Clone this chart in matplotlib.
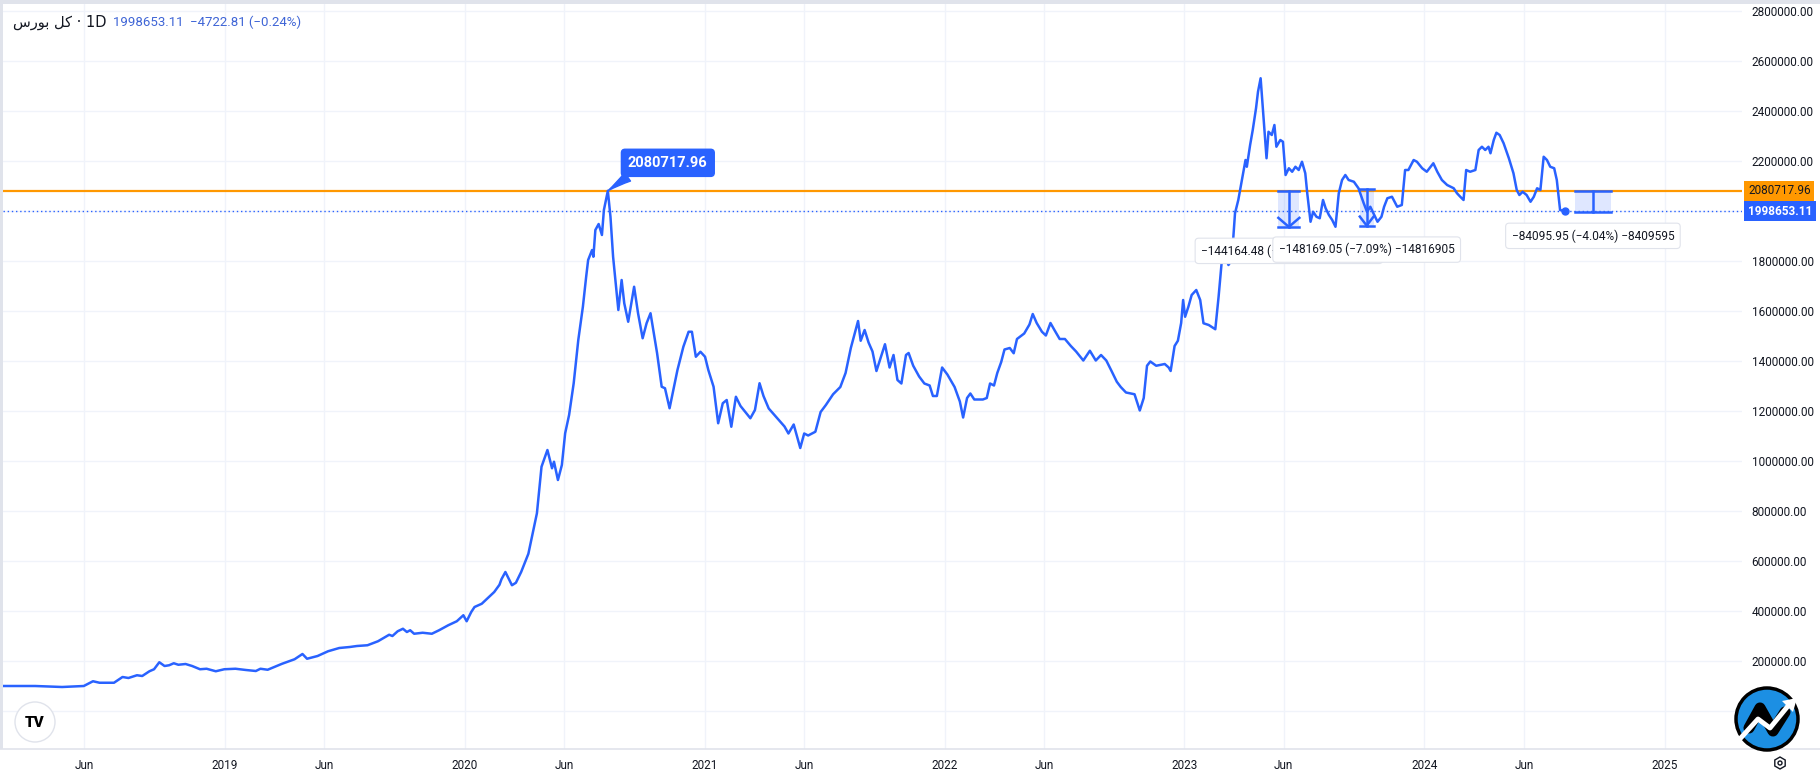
import numpy as np
import pandas as pd
import matplotlib
matplotlib.use('Agg')
import matplotlib.pyplot as plt
import matplotlib.ticker as mticker
from matplotlib.patches import Rectangle, Circle, RegularPolygon, Polygon
from matplotlib.transforms import blended_transform_factory

# index closes
dates = ['2018-01-27', '2018-03-18', '2018-04-28', '2018-05-31', '2018-06-14', '2018-06-24',
         '2018-07-16', '2018-07-29', '2018-08-07', '2018-08-20', '2018-08-28', '2018-09-08',
         '2018-09-15', '2018-09-23', '2018-10-01', '2018-10-08', '2018-10-15', '2018-10-22',
         '2018-11-02', '2018-11-12', '2018-11-24', '2018-12-04', '2018-12-18', '2018-12-31',
         '2019-01-17', '2019-02-02', '2019-02-17', '2019-02-24', '2019-03-07', '2019-03-29',
         '2019-04-17', '2019-04-29', '2019-05-06', '2019-05-22', '2019-06-07', '2019-06-24',
         '2019-07-10', '2019-07-21', '2019-08-06', '2019-08-22', '2019-09-08', '2019-09-13',
         '2019-09-21', '2019-09-29', '2019-10-05', '2019-10-10', '2019-10-16', '2019-10-29',
         '2019-11-12', '2019-11-23', '2019-12-07', '2019-12-20', '2019-12-30', '2020-01-04',
         '2020-01-11', '2020-01-16', '2020-01-27', '2020-02-07', '2020-02-15', '2020-02-23',
         '2020-02-26', '2020-03-03', '2020-03-08', '2020-03-13', '2020-03-19', '2020-03-27',
         '2020-04-07', '2020-04-20', '2020-04-27', '2020-05-06', '2020-05-13', '2020-05-16',
         '2020-05-22', '2020-05-28', '2020-06-02', '2020-06-08', '2020-06-15', '2020-06-22',
         '2020-06-29', '2020-07-04', '2020-07-07', '2020-07-13', '2020-07-15', '2020-07-18',
         '2020-07-23', '2020-07-28', '2020-07-31', '2020-08-06', '2020-08-10', '2020-08-14',
         '2020-08-22', '2020-08-27', '2020-08-31', '2020-09-06', '2020-09-15', '2020-09-21',
         '2020-09-28', '2020-10-04', '2020-10-10', '2020-10-20', '2020-10-27', '2020-11-01',
         '2020-11-08', '2020-11-20', '2020-11-29', '2020-12-07', '2020-12-12', '2020-12-18',
         '2020-12-25', '2021-01-01', '2021-01-06', '2021-01-14', '2021-01-21', '2021-01-28',
         '2021-02-03', '2021-02-10', '2021-02-17', '2021-02-24', '2021-03-11', '2021-03-18',
         '2021-03-25', '2021-03-31', '2021-04-08', '2021-04-22', '2021-05-02', '2021-05-08',
         '2021-05-16', '2021-05-26', '2021-06-01', '2021-06-07', '2021-06-18', '2021-06-26',
         '2021-07-04', '2021-07-15', '2021-07-26', '2021-08-03', '2021-08-11', '2021-08-22',
         '2021-08-26', '2021-09-01', '2021-09-07', '2021-09-13', '2021-09-19', '2021-09-25',
         '2021-10-02', '2021-10-09', '2021-10-15', '2021-10-21', '2021-10-27', '2021-11-03',
         '2021-11-07', '2021-11-14', '2021-11-23', '2021-12-01', '2021-12-09', '2021-12-14',
         '2021-12-20', '2021-12-28', '2022-01-05', '2022-01-16', '2022-01-24', '2022-01-29',
         '2022-02-04', '2022-02-09', '2022-02-15', '2022-02-28', '2022-03-06', '2022-03-11',
         '2022-03-17', '2022-03-22', '2022-03-28', '2022-04-02', '2022-04-10', '2022-04-16',
         '2022-04-21', '2022-05-02', '2022-05-10', '2022-05-15', '2022-05-21', '2022-05-29',
         '2022-06-04', '2022-06-11', '2022-06-17', '2022-06-25', '2022-07-03', '2022-07-12',
         '2022-07-20', '2022-07-31', '2022-08-10', '2022-08-19', '2022-08-27', '2022-09-04',
         '2022-09-12', '2022-09-20', '2022-09-26', '2022-10-04', '2022-10-17', '2022-10-25',
         '2022-10-31', '2022-11-05', '2022-11-10', '2022-11-19', '2022-12-02', '2022-12-08',
         '2022-12-11', '2022-12-17', '2022-12-22', '2022-12-27', '2022-12-30', '2023-01-02',
         '2023-01-07', '2023-01-12', '2023-01-19', '2023-01-25', '2023-01-30', '2023-02-07',
         '2023-02-17', '2023-02-22', '2023-02-27', '2023-03-04', '2023-03-09', '2023-03-14',
         '2023-03-19', '2023-03-24', '2023-03-30', '2023-04-04', '2023-04-06', '2023-04-11',
         '2023-04-15', '2023-04-20', '2023-04-23', '2023-04-27', '2023-05-02', '2023-05-06',
         '2023-05-09', '2023-05-14', '2023-05-18', '2023-05-21', '2023-05-27', '2023-05-31',
         '2023-06-04', '2023-06-09', '2023-06-14', '2023-06-19', '2023-06-24', '2023-06-29',
         '2023-07-04', '2023-07-07', '2023-07-12', '2023-07-16', '2023-07-21', '2023-07-26',
         '2023-07-31', '2023-08-04', '2023-08-09', '2023-08-14', '2023-08-19', '2023-08-24',
         '2023-08-29', '2023-09-03', '2023-09-08', '2023-09-16', '2023-09-23', '2023-10-01',
         '2023-10-06', '2023-10-11', '2023-10-17', '2023-10-22', '2023-10-28', '2023-11-01',
         '2023-11-06', '2023-11-13', '2023-11-21', '2023-11-28', '2023-12-03', '2023-12-08',
         '2023-12-16', '2023-12-21', '2023-12-29', '2024-01-05', '2024-01-15', '2024-01-21',
         '2024-01-28', '2024-02-05', '2024-02-15', '2024-02-20', '2024-02-25', '2024-03-01',
         '2024-03-05', '2024-03-11', '2024-03-19', '2024-03-24', '2024-03-29', '2024-04-03',
         '2024-04-08', '2024-04-11', '2024-04-16', '2024-04-20', '2024-04-25', '2024-05-01',
         '2024-05-09', '2024-05-16', '2024-05-21', '2024-05-25', '2024-05-30', '2024-06-05',
         '2024-06-11', '2024-06-16', '2024-06-21', '2024-06-26', '2024-07-01', '2024-07-06',
         '2024-07-11', '2024-07-17', '2024-07-21', '2024-07-26', '2024-08-03']
close = [100000, 100000, 96000, 100000, 119000, 113000,
         113000, 136000, 132000, 143000, 140000, 159000,
         167000, 195000, 180000, 183000, 191000, 185000,
         188000, 180000, 167000, 169000, 159000, 167000,
         169000, 164000, 160000, 169000, 165000, 189000,
         207000, 228000, 209000, 220000, 239000, 252000,
         256000, 260000, 263000, 279000, 305000, 300000,
         319000, 329000, 316000, 323000, 309000, 313000,
         309000, 323000, 343000, 359000, 383000, 359000,
         396000, 416000, 429000, 456000, 476000, 505000,
         527000, 556000, 529000, 503000, 513000, 556000,
         629000, 791000, 977000, 1044000, 971000, 997000,
         924000, 984000, 1111000, 1184000, 1311000, 1484000,
         1617000, 1737000, 1804000, 1844000, 1817000, 1924000,
         1948000, 1904000, 2004000, 2080718, 1977000, 1817000,
         1604000, 1724000, 1631000, 1557000, 1697000, 1591000,
         1491000, 1551000, 1591000, 1431000, 1297000, 1291000,
         1211000, 1364000, 1457000, 1517000, 1517000, 1417000,
         1437000, 1417000, 1364000, 1297000, 1151000, 1231000,
         1244000, 1137000, 1257000, 1220000, 1171000, 1204000,
         1311000, 1260000, 1210000, 1168000, 1138000, 1110000,
         1146000, 1052000, 1110000, 1102000, 1117000, 1196000,
         1224000, 1267000, 1296000, 1352000, 1452000, 1560000,
         1481000, 1524000, 1474000, 1438000, 1360000, 1410000,
         1467000, 1374000, 1424000, 1324000, 1310000, 1424000,
         1432000, 1381000, 1338000, 1310000, 1302000, 1260000,
         1260000, 1374000, 1346000, 1296000, 1238000, 1174000,
         1252000, 1270000, 1246000, 1246000, 1252000, 1310000,
         1302000, 1352000, 1396000, 1446000, 1452000, 1431000,
         1488000, 1510000, 1546000, 1588000, 1552000, 1517000,
         1502000, 1552000, 1524000, 1488000, 1488000, 1460000,
         1438000, 1402000, 1441000, 1402000, 1424000, 1402000,
         1360000, 1317000, 1296000, 1274000, 1267000, 1202000,
         1252000, 1381000, 1398000, 1381000, 1388000, 1374000,
         1360000, 1460000, 1481000, 1552000, 1644000, 1577000,
         1617000, 1664000, 1684000, 1644000, 1551000, 1544000,
         1527000, 1657000, 1804000, 1824000, 1784000, 1804000,
         1991000, 2044000, 2131000, 2204000, 2177000, 2264000,
         2324000, 2411000, 2477000, 2531000, 2351000, 2211000,
         2317000, 2304000, 2344000, 2257000, 2284000, 2277000,
         2144000, 2171000, 2157000, 2177000, 2164000, 2197000,
         2151000, 2071000, 1957000, 1997000, 1977000, 1971000,
         2044000, 2011000, 1984000, 1964000, 1937000, 2071000,
         2124000, 2144000, 2124000, 2117000, 2091000, 2031000,
         1997000, 2017000, 1984000, 1957000, 1977000, 2017000,
         2051000, 2057000, 2017000, 2024000, 2164000, 2164000,
         2204000, 2197000, 2171000, 2157000, 2191000, 2157000,
         2124000, 2104000, 2091000, 2071000, 2057000, 2044000,
         2164000, 2157000, 2164000, 2244000, 2257000, 2244000,
         2257000, 2231000, 2284000, 2313000, 2304000, 2271000,
         2211000, 2151000, 2084000, 2064000, 2077000, 2064000,
         2037000, 2057000, 2091000, 2084000, 2217000, 2204000,
         2177000, 2171000, 2124000, 2004000, 1998653.11]

peak_date = '2020-08-06'
peak_value = 2080717.96
last_value = 1998653.11
change_text = '1998653.11  \u22124722.81 (\u22120.24%)'

# price range measurements
tool_start = ['2023-05-24', '2023-09-25', '2024-08-18']
tool_end = ['2023-06-25', '2023-10-16', '2024-10-11']
tool_top = [2080717.96, 2089800.00, 2080717.96]
tool_change = [-144164.48, -148169.05, -84095.95]
tool_arrow = [True, True, False]

# axis ticks
yticks = np.arange(0, 2800001, 200000)
xtick_dates = ['2018-06-01', '2019-01-01', '2019-06-01', '2020-01-01', '2020-06-01',
               '2021-01-01', '2021-06-01', '2022-01-01', '2022-06-01', '2023-01-01',
               '2023-06-01', '2024-01-01', '2024-06-01', '2025-01-01']
xtick_labels = ['Jun', '2019', 'Jun', '2020', 'Jun', '2021', 'Jun', '2022', 'Jun',
                '2023', 'Jun', '2024', 'Jun', '2025']

BLUE = '#2962FF'
ORANGE = '#FF9800'
TXT = '#131722'
GRID = '#f0f3fa'
FONT = ['Roboto', 'DejaVu Sans']

plt.rcParams['font.family'] = FONT

W, H = 1820, 774
fig = plt.figure(figsize=(W / 100, H / 100), dpi=100, facecolor='white')
ax = fig.add_axes([3 / W, 25 / H, 1739 / W, 745 / H])
ax.set_facecolor('white')

ymin, ymax = -152000, 2828000
ax.set_ylim(ymin, ymax)
ax.set_xlim(pd.Timestamp('2018-01-28'), pd.Timestamp('2025-04-29'))
px_val = (ymax - ymin) / 745.0

d = pd.to_datetime(dates)
ax.plot(d, close, color=BLUE, lw=1.8, solid_joinstyle='round', zorder=4)
ax.plot(d[-1:], close[-1:], 'o', ms=5, color=BLUE, zorder=5)

ax.axhline(peak_value, color=ORANGE, lw=1.6, zorder=3)
ax.axhline(last_value, color=BLUE, lw=1, ls=(0, (1, 2)), zorder=3)

# grid
ax.set_yticks(yticks)
ax.set_xticks(pd.to_datetime(xtick_dates))
ax.set_xticklabels(xtick_labels)
ax.grid(True, color=GRID, lw=1, zorder=0)
ax.set_axisbelow(True)
for s in ax.spines.values():
    s.set_visible(False)


def yfmt(v, pos):
    if v <= 0 or abs(v - 2000000) < 1:
        return ''
    return f'{v:.2f}'


ax.yaxis.set_major_formatter(mticker.FuncFormatter(yfmt))
ax.yaxis.tick_right()
ax.tick_params(axis='y', length=0, pad=7, labelsize=8.5, labelcolor=TXT)
ax.tick_params(axis='x', length=0, pad=7, labelsize=8.5, labelcolor=TXT)

# price labels on the scale
trans = blended_transform_factory(ax.transAxes, ax.transData)
ax.annotate(f'{peak_value:.2f}', xy=(1, peak_value), xycoords=trans, xytext=(6, 0),
            textcoords='offset pixels', ha='left', va='center', fontsize=8.5, color=TXT,
            bbox=dict(boxstyle='square,pad=0.3', fc=ORANGE, ec='none'), annotation_clip=False)
ax.annotate(f'{last_value:.2f}', xy=(1, last_value), xycoords=trans, xytext=(6, 0),
            textcoords='offset pixels', ha='left', va='center', fontsize=8.5, color='white',
            fontweight='bold', bbox=dict(boxstyle='square,pad=0.3', fc=BLUE, ec='none'),
            annotation_clip=False)

# callout at the peak
ax.annotate(f'{peak_value:.2f}', xy=(pd.Timestamp(peak_date), peak_value), xytext=(60, 28),
            textcoords='offset pixels', ha='center', va='center', color='white', fontsize=10.5,
            fontweight='bold', zorder=8,
            bbox=dict(boxstyle='round,pad=0.45,rounding_size=0.25', fc=BLUE, ec=BLUE),
            arrowprops=dict(arrowstyle='wedge,tail_width=0.7,shrink_factor=0.4', fc=BLUE, ec=BLUE,
                            relpos=(0.12, 0.0), shrinkA=0, shrinkB=0))


def minus(s):
    return s.replace('-', '\u2212')


# measurement tools
for i, (s, e, top, chg, arrow) in enumerate(zip(tool_start, tool_end, tool_top, tool_change, tool_arrow)):
    s, e = pd.Timestamp(s), pd.Timestamp(e)
    bot = top + chg
    mid = s + (e - s) / 2
    ax.fill_between([s, e], bot, top, color=BLUE, alpha=0.15, lw=0, zorder=5)
    ax.plot([s, e], [top, top], color=BLUE, lw=1.8, zorder=6)
    ax.plot([s, e], [bot, bot], color=BLUE, lw=1.8, zorder=6)
    ax.plot([mid, mid], [top, bot], color=BLUE, lw=1.8, zorder=6)
    if arrow:
        ax.plot([s, mid, e], [bot + 9 * px_val, bot, bot + 9 * px_val], color=BLUE, lw=1.8, zorder=6)
    pct = chg / top * 100
    label = minus(f'{chg:.2f} ({pct:.2f}%) {chg * 100:.0f}')
    ax.annotate(label, xy=(mid, bot), xytext=(0, -24), textcoords='offset pixels',
                ha='center', va='center', fontsize=8.6, color=TXT, zorder=9 + i,
                bbox=dict(boxstyle='round,pad=0.5,rounding_size=0.3', fc='white', ec='#e0e3eb', lw=0.8))

# overlay in pixel coordinates for frame and logos
ov = fig.add_axes([0, 0, 1, 1], facecolor='none')
ov.set_xlim(0, W)
ov.set_ylim(H, 0)
ov.axis('off')
ov.add_patch(Rectangle((0, 0), W, 4, fc='#e0e3eb', ec='none'))
ov.add_patch(Rectangle((0, 0), 3, 749, fc='#e0e3eb', ec='none'))
ov.plot([0, W], [749, 749], color='#e0e3eb', lw=1.2)

# title
ov.text(13, 22, '\uFEB1\uFEAD\uFEEE\uFE91 \uFEDE\uFB90 \u00b7 1D', fontsize=10.5, color=TXT,
        va='center', ha='left', family=['DejaVu Sans'])
ov.text(113, 22, change_text, fontsize=9.5, color='#3f65d6', va='center', ha='left')

# tradingview badge
ov.add_patch(Circle((35, 722), 20, fc='white', ec='#e0e3eb', lw=1))
ov.text(35, 723, 'TV', fontsize=11, fontweight='heavy', color='black', ha='center', va='center')

# blue logo
ov.add_patch(Circle((1767, 719), 31, fc='#1c8fe3', ec='black', lw=2.5, zorder=5))
ov.plot([1749, 1760, 1773, 1785], [728, 708, 731, 712], color='black', lw=8,
        solid_capstyle='round', zorder=6)
ov.plot([1738, 1758, 1770, 1788], [741, 719, 728, 706], color='white', lw=3.5, zorder=7)
ov.add_patch(Polygon([[1797, 698], [1782, 701], [1793, 712]], closed=True, fc='white', ec='none', zorder=7))

# settings icon
ov.add_patch(RegularPolygon((1780, 763), 6, radius=6, fill=False, ec=TXT, lw=1))
ov.add_patch(Circle((1780, 763), 2, fill=False, ec=TXT, lw=1))

fig.savefig('out.png', dpi=100, facecolor='white')
